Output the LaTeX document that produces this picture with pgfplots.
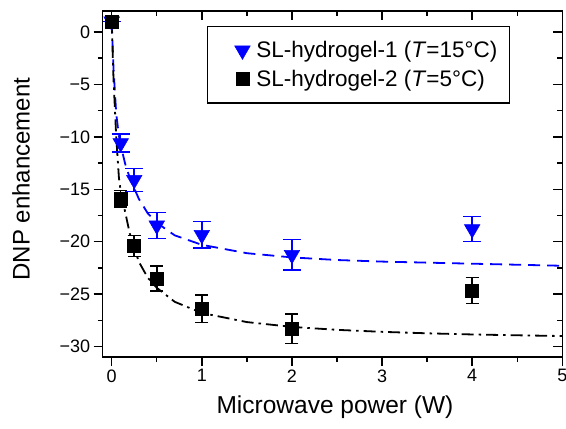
\documentclass[border=0pt]{standalone}
\usepackage{pgfplots}
\pgfplotsset{compat=1.18}
\usepackage{fontspec}
\setmainfont{Liberation Sans}
\begin{document}
\begin{tikzpicture}
\pgfplotsset{
  common/.style={
    scale only axis, width=459.6pt, height=346pt,
    xmin=-0.1, xmax=5, ymin=-31, ymax=2,
    xtick={0,1,2,3,4,5}, ytick={-30,-25,-20,-15,-10,-5,0},
    minor x tick num=1, minor y tick num=1,
    major tick length=9pt, minor tick length=5pt,
    every tick/.style={line width=1.4pt, black},
    axis line style={line width=1.5pt},
  },
  myleg/.style={legend image code/.code={\path (-16pt,0pt); \draw[mark repeat=2,mark phase=2,##1] plot coordinates {(0cm,0cm) (0.3cm,0cm) (0.6cm,0cm)};}},
}
\begin{axis}[common, at={(0,0)}, anchor=south west,
  xtick pos=left, ytick pos=left, tick align=outside,
  yticklabels={−30,−25,−20,−15,−10,−5,0},
  xticklabels={0,1,2,3,4,5},
  tick label style={font=\fontsize{18}{20}\selectfont},
  xlabel={Microwave power (W)},
  ylabel={DNP enhancement},
  xlabel style={font=\fontsize{24.5}{27}\selectfont, at={([xshift=2.5pt,yshift=-56.3pt]rel axis cs:0.5,0)}, anchor=base},
  ylabel style={font=\fontsize{24}{27}\selectfont, at={([xshift=-81.7pt]rel axis cs:0,0.514)}, anchor=center, rotate=0},
  legend style={at={(rel axis cs:0.886,0.957)}, anchor=north east, draw=black, line width=1.2pt,
    font=\fontsize{22.5}{26}\selectfont, inner xsep=10pt, inner ysep=13pt, row sep=7pt,
    /tikz/every odd column/.style={column sep=4pt}},
  legend cell align=left,
]
\addplot[blue, line width=1.8pt, dash pattern=on 12pt off 7pt, forget plot] coordinates {
(0,1) (0.02,-3.5) (0.05,-7.8) (0.08,-9.9) (0.1,-10.8) (0.15,-12.6) (0.2,-13.9) (0.3,-15.9) (0.4,-17.3) (0.5,-18.2) (0.7,-19.4) (1,-20.3) (1.5,-21.1) (2,-21.5) (2.5,-21.75) (3,-21.9) (3.5,-22.0) (4,-22.1) (4.5,-22.2) (5,-22.3)};
\addplot[black, line width=1.8pt, dash pattern=on 12pt off 5pt on 2.5pt off 5pt, forget plot] coordinates {
(0,1) (0.02,-4.5) (0.05,-10.0) (0.08,-13.9) (0.1,-15.2) (0.15,-17.2) (0.2,-19.2) (0.3,-21.9) (0.4,-23.44) (0.5,-24.4) (0.7,-25.74) (1,-26.8) (1.5,-27.67) (2,-28.13) (2.5,-28.41) (3,-28.6) (3.5,-28.74) (4,-28.85) (4.5,-28.93) (5,-29.0)};
\addplot[blue, only marks, mark=triangle*, mark size=9pt, mark options={rotate=180, fill=blue, draw=blue, line width=0.5pt}, myleg,
  error bars/.cd, y dir=both, y explicit,
  error bar style={line width=1.5pt, blue},
  error mark options={rotate=90, mark size=9pt, line width=1.5pt, blue}]
  table[x=x, y=y, y error=e] {
x y e
0 1 0
0.1 -10.6 0.85
0.25 -14.1 1.1
0.5 -18.45 1.25
1 -19.35 1.25
2 -21.25 1.45
4 -18.8 1.2
};
\addlegendentry{SL-hydrogel-1 (\textit{T}=15°C)}
\addplot[black, only marks, mark=square*, mark size=6.5pt, mark options={fill=black, draw=black, line width=0.5pt}, myleg,
  error bars/.cd, y dir=both, y explicit,
  error bar style={line width=1.5pt, black},
  error mark options={rotate=90, mark size=6.5pt, line width=1.5pt, black}]
  table[x=x, y=y, y error=e] {
x y e
0 1 0
0.1 -15.9 0.8
0.25 -20.4 1.0
0.5 -23.5 1.2
1 -26.4 1.3
2 -28.3 1.4
4 -24.65 1.25
};
\addlegendentry{SL-hydrogel-2 (\textit{T}=5°C)}
\end{axis}
\begin{axis}[common, at={(0,0)}, anchor=south west,
  xtick pos=right, ytick pos=right, tick align=inside,
  xticklabels={}, yticklabels={}]
\end{axis}
\pgfresetboundingbox
\path[use as bounding box] (-102.7pt,-72pt) rectangle (463.3pt,357pt);
\end{tikzpicture}
\end{document}
